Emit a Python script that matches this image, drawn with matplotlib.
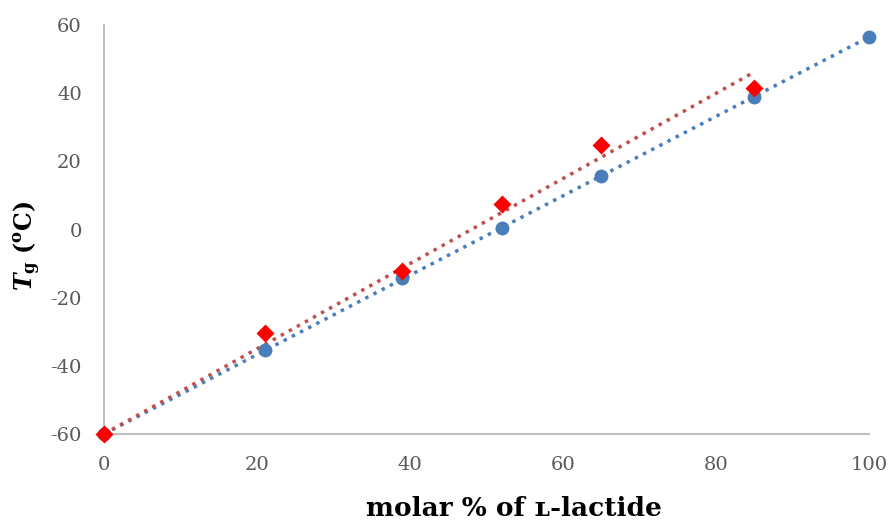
import numpy as np
import matplotlib.pyplot as plt

plt.rcParams['font.family'] = ['DejaVu Serif']
plt.rcParams['mathtext.fontset'] = 'dejavuserif'
plt.rcParams['axes.unicode_minus'] = False

# data
x_blue = [0, 21, 39, 52, 65, 85, 100]
tg_blue = [-60, -35.4, -14.2, 0.4, 15.7, 38.9, 56.5]
x_red = [0, 21, 39, 52, 65, 85]
tg_red = [-60, -30.4, -12.2, 7.5, 24.8, 41.5]

xticks = [0, 20, 40, 60, 80, 100]
yticks = [-60, -40, -20, 0, 20, 40, 60]

blue = '#4a7ebb'
red_line = '#c0504d'
red = '#ff0000'
grey = '#bfbfbf'

fig = plt.figure(figsize=(8.91, 5.21), dpi=100)
ax = fig.add_axes([0.1167, 0.167, 0.8586, 0.785])

# linear trendlines, intercept fixed at the first point (-60)
for xs, ys, col in [(x_blue, tg_blue, blue), (x_red, tg_red, red_line)]:
    xs = np.array(xs, float)
    ys = np.array(ys, float)
    b = ys[0]
    k = np.sum(xs * (ys - b)) / np.sum(xs ** 2)
    xx = np.array([xs.min(), xs.max()])
    ax.plot(xx, k * xx + b, ':', color=col, lw=2.5, zorder=2)

ax.plot(x_blue, tg_blue, 'o', color=blue, ms=10, mec='none', zorder=3, clip_on=False)
ax.plot(x_red, tg_red, 'D', color=red, ms=9, mec='none', zorder=4, clip_on=False)

ax.set_xlim(0, 100)
ax.set_ylim(-60, 60)
ax.set_xticks(xticks)
ax.set_yticks(yticks)
ax.tick_params(length=0, labelsize=14, labelcolor='#595959')
ax.tick_params(axis='x', pad=16)
ax.tick_params(axis='y', pad=16)
for s in ['top', 'right']:
    ax.spines[s].set_visible(False)
for s in ['left', 'bottom']:
    ax.spines[s].set_color(grey)
    ax.spines[s].set_linewidth(1.5)

ax.set_xlabel('molar % of ʟ-lactide', fontsize=19, fontweight='bold')
ax.xaxis.set_label_coords(0.536, -0.152)
ax.set_ylabel(r'$\mathbfit{T}_{\mathbf{g}}\ \mathbf{(^{o}C)}$', fontsize=17)
ax.yaxis.set_label_coords(-0.08, 0.46)

fig.savefig('out.png', dpi=100)
